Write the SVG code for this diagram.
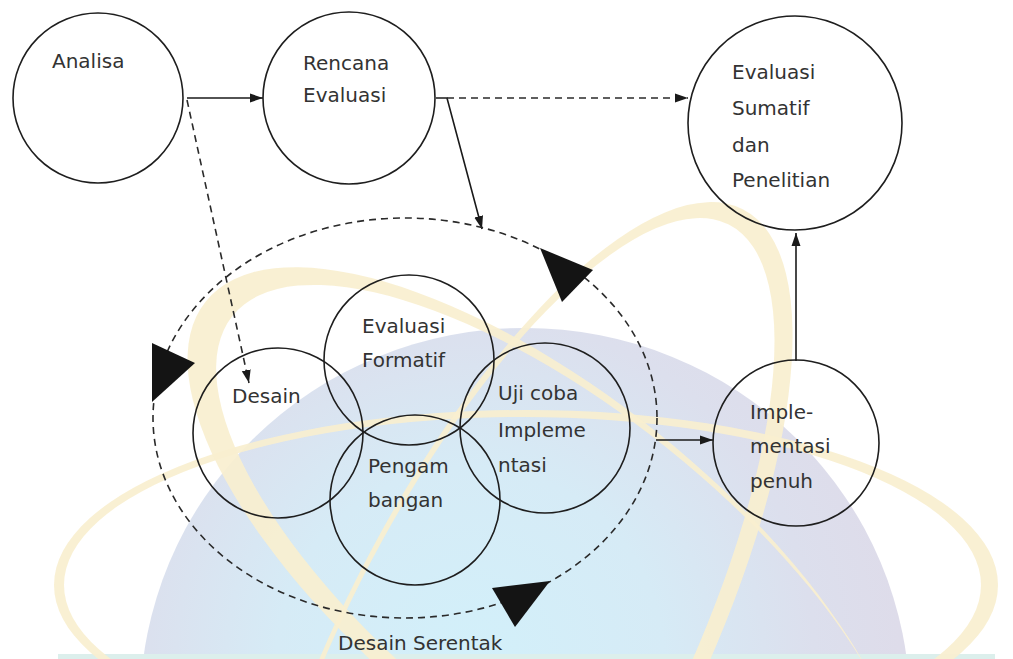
<svg xmlns="http://www.w3.org/2000/svg" width="1013" height="659" viewBox="0 0 1013 659">
  <defs>
    <radialGradient id="domeFill" gradientUnits="userSpaceOnUse" cx="470" cy="660" r="430">
      <stop offset="0" stop-color="#d2f0fa"/>
      <stop offset="0.45" stop-color="#d6ebf6"/>
      <stop offset="0.8" stop-color="#dcdfed"/>
      <stop offset="1" stop-color="#dedcea"/>
    </radialGradient>
    <marker id="arrow" markerWidth="14" markerHeight="10" refX="13" refY="5" orient="auto" markerUnits="userSpaceOnUse">
      <path d="M0,0.5 L13,5 L0,9.5 Z" fill="#1a1a1a"/>
    </marker>
    <style>
      .node { fill: none; stroke: #1e1e1e; stroke-width: 1.6; }
      .label { font-family: "DejaVu Sans", "Liberation Sans", sans-serif; font-size: 20px; fill: #333; }
      .solid { fill: none; stroke: #1a1a1a; stroke-width: 1.6; }
      .dashed { fill: none; stroke: #2a2a2a; stroke-width: 1.6; stroke-dasharray: 7 5; }
      .ring { fill: #f9efcf; fill-rule: evenodd; opacity: 0.92; }
      .bigHead { fill: #141414; }
    </style>
  </defs>

  <!-- backdrop -->
  <rect width="1013" height="659" fill="#ffffff"/>
  <g id="backdrop">
    <ellipse cx="525" cy="708" rx="385" ry="380" fill="url(#domeFill)"/>
    <rect x="58" y="654" width="937" height="5" fill="#dcefec"/>
    <!-- horizontal orbit -->
    <g transform="translate(526,585)">
      <path class="ring" d="M-472,0 A472,175 0 1 0 472,0 A472,175 0 1 0 -472,0 Z M-462,0 A458.5,168 0 1 0 455,0 A458.5,168 0 1 0 -462,0 Z"/>
    </g>
    <!-- orbit leaning right -->
    <g transform="translate(514.5,653) rotate(-63.1)">
      <path class="ring" d="M-499,2.75 A499,177.25 0 1 0 499,2.75 A499,177.25 0 1 0 -499,2.75 Z M-489,-2.75 A484,166.75 0 1 0 479,-2.75 A484,166.75 0 1 0 -489,-2.75 Z"/>
    </g>
    <!-- orbit leaning left -->
    <g transform="translate(546,574) rotate(38.7)">
      <path class="ring" d="M-436,0 A436,180 0 1 0 436,0 A436,180 0 1 0 -436,0 Z M-406,-5.5 A422,168.5 0 1 0 438,-5.5 A422,168.5 0 1 0 -406,-5.5 Z"/>
    </g>
  </g>

  <!-- connectors -->
  <g id="connectors">
    <line class="solid" x1="187" y1="98" x2="263" y2="98" marker-end="url(#arrow)"/>
    <path class="dashed" d="M187,100 L249,383" marker-end="url(#arrow)"/>
    <path class="solid" d="M436,98 H447 L482,229" marker-end="url(#arrow)"/>
    <line class="dashed" x1="447" y1="98" x2="688" y2="98" marker-end="url(#arrow)"/>
    <line class="solid" x1="656" y1="440" x2="713" y2="440" marker-end="url(#arrow)"/>
    <line class="solid" x1="796" y1="361" x2="796" y2="233" marker-end="url(#arrow)"/>
  </g>

  <!-- concurrent design cycle -->
  <g id="cycle">
    <ellipse class="dashed" cx="405" cy="418" rx="252" ry="200"/>
    <polygon class="bigHead" points="540,248 593,270 562,302"/>
    <polygon class="bigHead" points="152,343 195,363 152,402"/>
    <polygon class="bigHead" points="492,588 550,581 515,627"/>
    <text class="label" x="338" y="650">Desain Serentak</text>
  </g>

  <g id="analisa">
    <circle class="node" cx="98" cy="98" r="85"/>
    <text class="label" x="52" y="68">Analisa</text>
  </g>

  <g id="rencana-evaluasi">
    <circle class="node" cx="349" cy="98" r="86"/>
    <text class="label" x="303" y="70">Rencana</text>
    <text class="label" x="303" y="102">Evaluasi</text>
  </g>

  <g id="evaluasi-sumatif">
    <circle class="node" cx="795" cy="123" r="107"/>
    <text class="label" x="732" y="79">Evaluasi</text>
    <text class="label" x="732" y="115">Sumatif</text>
    <text class="label" x="732" y="152">dan</text>
    <text class="label" x="732" y="187">Penelitian</text>
  </g>

  <g id="desain">
    <circle class="node" cx="278" cy="433" r="85"/>
    <text class="label" x="232" y="403">Desain</text>
  </g>

  <g id="evaluasi-formatif">
    <circle class="node" cx="409" cy="360" r="85"/>
    <text class="label" x="362" y="333">Evaluasi</text>
    <text class="label" x="362" y="367">Formatif</text>
  </g>

  <g id="uji-coba">
    <circle class="node" cx="545" cy="428" r="85"/>
    <text class="label" x="498" y="400">Uji coba</text>
    <text class="label" x="498" y="437">Impleme</text>
    <text class="label" x="498" y="472">ntasi</text>
  </g>

  <g id="pengembangan">
    <circle class="node" cx="415" cy="500" r="85"/>
    <text class="label" x="368" y="473">Pengam</text>
    <text class="label" x="368" y="507">bangan</text>
  </g>

  <g id="implementasi">
    <circle class="node" cx="796" cy="443" r="83"/>
    <text class="label" x="750" y="419">Imple-</text>
    <text class="label" x="750" y="453">mentasi</text>
    <text class="label" x="750" y="488">penuh</text>
  </g>
</svg>
